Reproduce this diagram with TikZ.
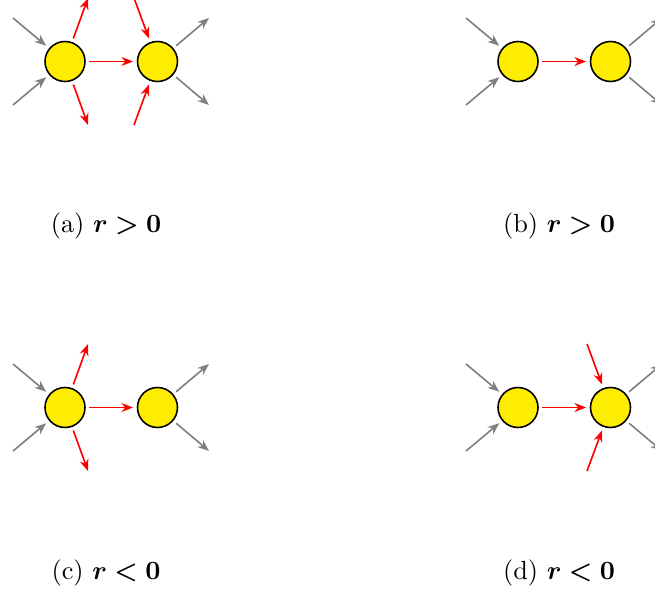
\documentclass[tikz,border=0pt]{standalone}
\usepackage{amsmath,bm}
\usetikzlibrary{arrows.meta}
\begin{document}
\begin{tikzpicture}[x=0.38pt,y=-0.38pt,
  cell/.style={circle,draw=black,fill=yellow!95!orange,line width=0.6pt,minimum size=15.2pt,inner sep=0pt,outer sep=1.7pt},
  flow/.style={-{Stealth[length=4.4pt,width=3.4pt]},line width=0.62pt},
  inflow/.style={flow,draw=gray},
  keyflow/.style={flow,draw=red},
  captext/.style={font=\fontsize{10pt}{12pt}\selectfont,anchor=center}]
\clip (0,0) rectangle (655,592);
\useasboundingbox (0,0) rectangle (655,592);
% ---------- (a) ----------
\node[cell] (a1) at (65,61.5) {};
\node[cell] (a2) at (157.5,61.5) {};
\coordinate (a1i1) at (13,18); \coordinate (a1i2) at (13,105);
\coordinate (a2o1) at (209,18); \coordinate (a2o2) at (209,105);
\coordinate (a1u) at (88,-2); \coordinate (a1d) at (88,125);
\coordinate (a2u) at (134,-2); \coordinate (a2d) at (134,125);
\draw[inflow] (a1i1) -- (a1); \draw[inflow] (a1i2) -- (a1);
\draw[inflow] (a2) -- (a2o1); \draw[inflow] (a2) -- (a2o2);
\draw[keyflow] (a1) -- (a2);
\draw[keyflow] (a1) -- (a1u); \draw[keyflow] (a1) -- (a1d);
\draw[keyflow] (a2u) -- (a2); \draw[keyflow] (a2d) -- (a2);
\node[captext] (capa) at (106,226) {(a) $\bm{r>0}$};
% ---------- (b) ----------
\node[cell] (b1) at (518,61.5) {};
\node[cell] (b2) at (610.5,61.5) {};
\coordinate (b1i1) at (466,18); \coordinate (b1i2) at (466,105);
\coordinate (b2o1) at (662,18); \coordinate (b2o2) at (662,105);
\draw[inflow] (b1i1) -- (b1); \draw[inflow] (b1i2) -- (b1);
\draw[inflow] (b2) -- (b2o1); \draw[inflow] (b2) -- (b2o2);
\draw[keyflow] (b1) -- (b2);
\node[captext] (capb) at (559,226) {(b) $\bm{r>0}$};
% ---------- (c) ----------
\node[cell] (c1) at (65,407.5) {};
\node[cell] (c2) at (157.5,407.5) {};
\coordinate (c1i1) at (13,364); \coordinate (c1i2) at (13,451);
\coordinate (c2o1) at (209,364); \coordinate (c2o2) at (209,451);
\coordinate (c1u) at (88,344); \coordinate (c1d) at (88,471);
\draw[inflow] (c1i1) -- (c1); \draw[inflow] (c1i2) -- (c1);
\draw[inflow] (c2) -- (c2o1); \draw[inflow] (c2) -- (c2o2);
\draw[keyflow] (c1) -- (c2);
\draw[keyflow] (c1) -- (c1u); \draw[keyflow] (c1) -- (c1d);
\node[captext] (capc) at (106,573) {(c) $\bm{r<0}$};
% ---------- (d) ----------
\node[cell] (d1) at (518,407.5) {};
\node[cell] (d2) at (610.5,407.5) {};
\coordinate (d1i1) at (466,364); \coordinate (d1i2) at (466,451);
\coordinate (d2o1) at (662,364); \coordinate (d2o2) at (662,451);
\coordinate (d2u) at (587,344); \coordinate (d2d) at (587,471);
\draw[inflow] (d1i1) -- (d1); \draw[inflow] (d1i2) -- (d1);
\draw[inflow] (d2) -- (d2o1); \draw[inflow] (d2) -- (d2o2);
\draw[keyflow] (d1) -- (d2);
\draw[keyflow] (d2u) -- (d2); \draw[keyflow] (d2d) -- (d2);
\node[captext] (capd) at (559,573) {(d) $\bm{r<0}$};
\end{tikzpicture}
\end{document}
